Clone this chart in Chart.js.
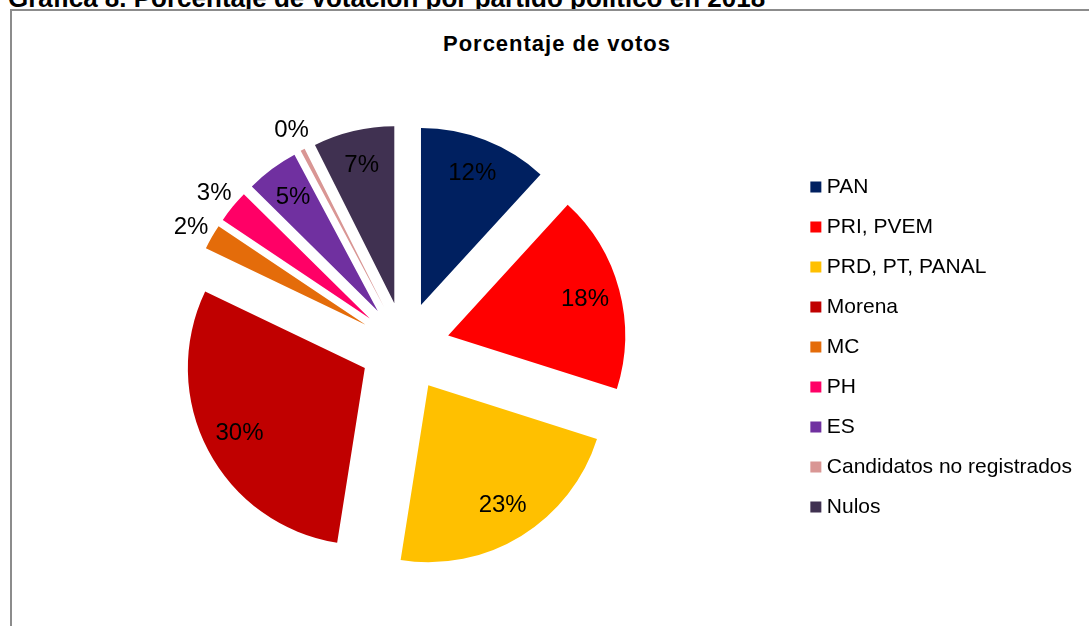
<!DOCTYPE html>
<html>
<head>
<meta charset="utf-8">
<script src="https://cdn.jsdelivr.net/npm/chart.js@4.4.0/dist/chart.umd.min.js"></script>
<style>
  html, body { margin: 0; padding: 0; background: #fff; overflow: hidden; }
  body { width: 1089px; height: 626px; position: relative; font-family: "Liberation Sans", Arial, sans-serif; color: #000; }
  #encabezado { position: absolute; left: 8px; top: -15px; font-size: 26px; font-weight: bold; line-height: 1; white-space: nowrap; }
  #marco { position: absolute; left: 10px; top: 9px; width: 1200px; height: 800px; border: 2px solid #8c8c8c; background: #fff; }
  #titulo { position: absolute; left: 0; top: 33px; width: 1114px; text-align: center; font-size: 22px; font-weight: bold; line-height: 1; letter-spacing: 1px; }
  #grafica { position: absolute; left: 0; top: 0; }
</style>
</head>
<body>
<div id="encabezado">Gráfica 8. Porcentaje de votación por partido político en 2018</div>
<div id="marco"></div>
<div id="titulo">Porcentaje de votos</div>
<canvas id="grafica" width="1089" height="626"></canvas>
<script>
// datos
const partidos = ['PAN', 'PRI, PVEM', 'PRD, PT, PANAL', 'Morena', 'MC', 'PH', 'ES', 'Candidatos no registrados', 'Nulos'];
const porcentajes = [11.8, 18.1, 22.6, 29.6, 2.3, 3.0, 4.8, 0.4, 7.4];
const colores = ['#002060', '#FF0000', '#FFC000', '#C00000', '#E46C0A', '#FF0066', '#7030A0', '#D99694', '#403151'];

const separacion = 45;  // cuanto se separa cada rebanada del centro (px)
const radio = 177;

Chart.defaults.font.family = '"Liberation Sans", Arial, sans-serif';
Chart.defaults.color = '#000';

// el offset de Chart.js encoge las rebanadas chicas; aqui solo se desplaza
// cada arco sobre su angulo medio, como el "explode" de Excel
const separar = {
  id: 'separar',
  afterDatasetUpdate(chart, args) {
    const area = chart.chartArea;
    const cx = (area.left + area.right) / 2;
    const cy = (area.top + area.bottom) / 2;
    args.meta.data.forEach(arc => {
      const mid = (arc.startAngle + arc.endAngle) / 2;
      arc.x = cx + Math.cos(mid) * separacion;
      arc.y = cy + Math.sin(mid) * separacion;
    });
  }
};

// etiquetas de porcentaje: dentro si la rebanada es grande, fuera si es chica
const etiquetas = {
  id: 'etiquetas',
  afterDatasetsDraw(chart) {
    const ctx = chart.ctx;
    const meta = chart.getDatasetMeta(0);
    const total = porcentajes.reduce((a, b) => a + b, 0);
    ctx.save();
    ctx.font = '24px "Liberation Sans", Arial, sans-serif';
    ctx.fillStyle = '#000';
    ctx.textAlign = 'center';
    ctx.textBaseline = 'middle';
    meta.data.forEach((arc, i) => {
      const pct = porcentajes[i] / total * 100;
      const mid = (arc.startAngle + arc.endAngle) / 2;
      const fuera = pct < 4;
      const r = fuera ? arc.outerRadius + 24 : arc.outerRadius * 0.8;
      ctx.fillText(Math.round(pct) + '%', arc.x + Math.cos(mid) * r, arc.y + Math.sin(mid) * r + (fuera ? 2 : 0));
    });
    ctx.restore();
  }
};

new Chart(document.getElementById('grafica').getContext('2d'), {
  type: 'pie',
  data: {
    labels: partidos,
    datasets: [{
      data: porcentajes,
      backgroundColor: colores,
      borderWidth: 0
    }]
  },
  options: {
    responsive: false,
    animation: false,
    radius: radio,
    layout: { padding: { left: 13, right: 7, top: 68, bottom: 0 } },
    plugins: {
      tooltip: { enabled: false },
      legend: {
        position: 'right',
        fullSize: false,
        labels: {
          usePointStyle: true,
          pointStyle: 'rect',
          boxWidth: 1,
          boxHeight: 11,
          padding: 19,
          color: '#000',
          font: { size: 21 }
        }
      }
    }
  },
  plugins: [separar, etiquetas]
});
</script>
</body>
</html>
